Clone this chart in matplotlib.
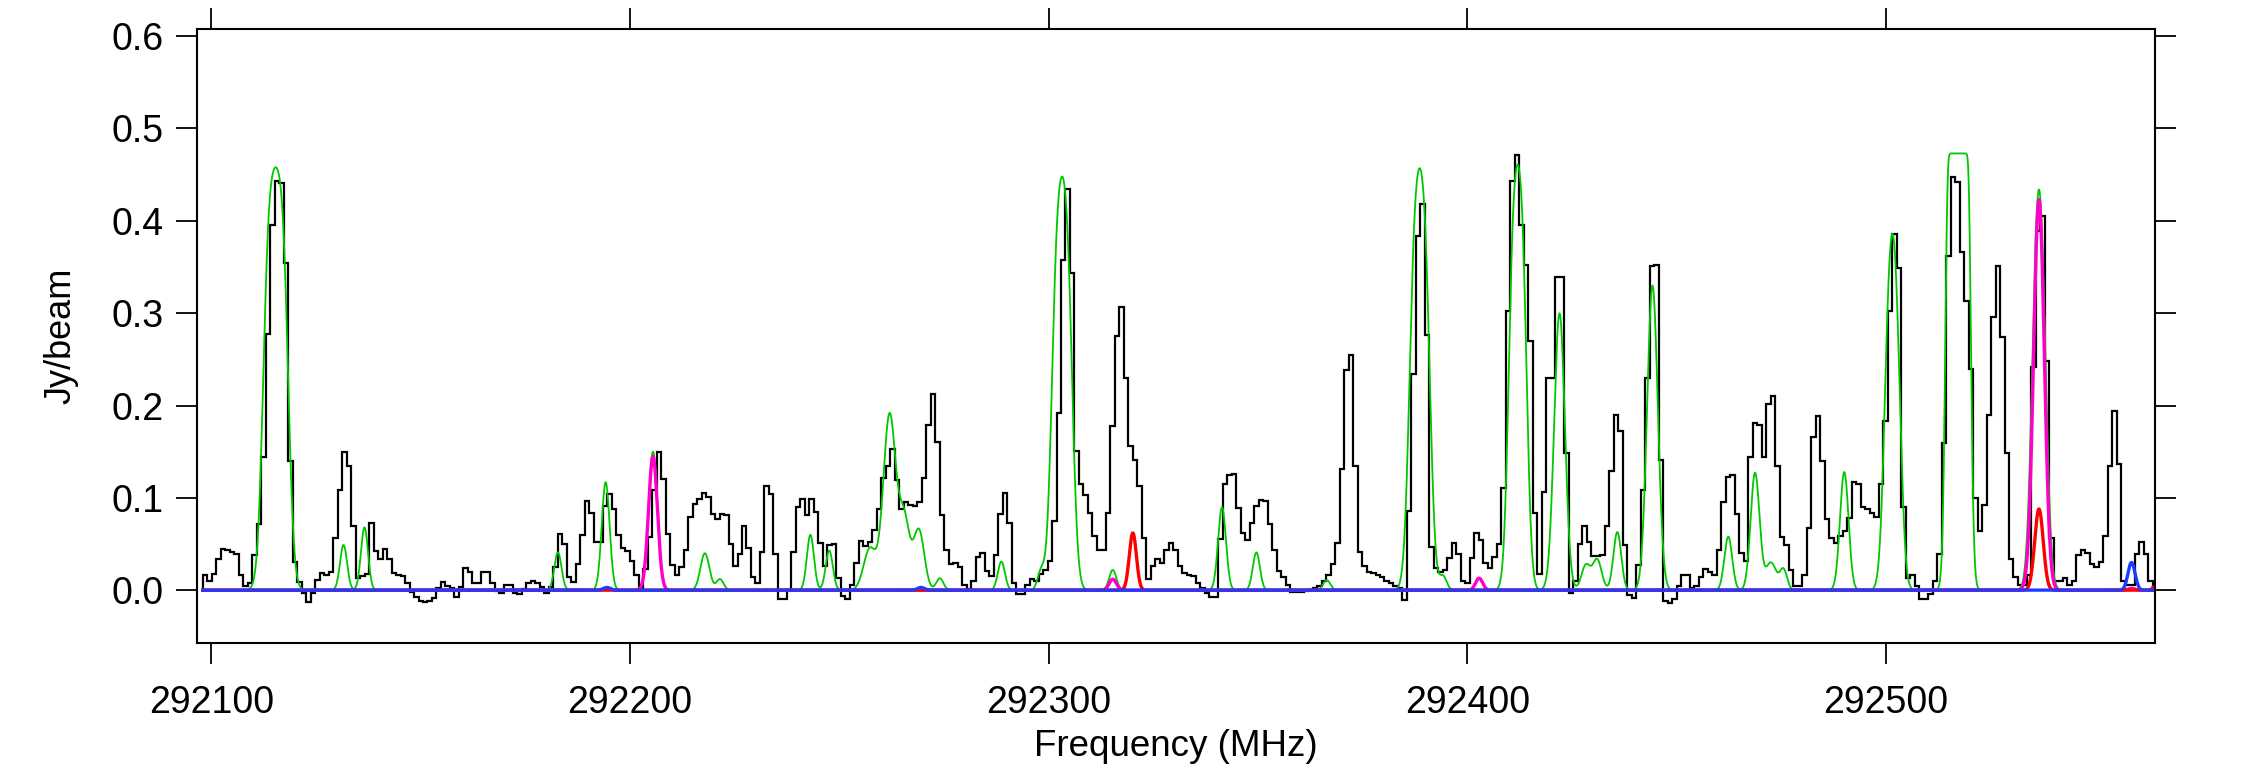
import numpy as np
import matplotlib
matplotlib.use("Agg")
import matplotlib.pyplot as plt

plt.rcParams['font.family'] = ['Liberation Sans', 'DejaVu Sans']

# observed spectrum: channel start, channel width (MHz), flux per channel (Jy/beam)
chan_start = 292098.0
chan_width = 1.073
flux = [
    0.017, 0.010, 0.018, 0.034, 0.045, 0.044, 0.041, 0.039, 0.016, 0.005,
    0.008, 0.038, 0.072, 0.144, 0.277, 0.395, 0.443, 0.441, 0.354, 0.140,
    0.031, 0.009, -0.003, -0.013, -0.003, 0.011, 0.019, 0.017, 0.020, 0.056,
    0.109, 0.150, 0.134, 0.069, 0.013, 0.015, 0.018, 0.073, 0.042, 0.034,
    0.045, 0.034, 0.019, 0.017, 0.015, 0.008, -0.002, -0.007, -0.012, -0.013,
    -0.012, -0.008, 0.002, 0.009, 0.005, 0.002, -0.007, 0.003, 0.024, 0.020,
    0.008, 0.008, 0.020, 0.020, 0.008, -0.001, -0.003, 0.006, 0.006, -0.003,
    -0.004, 0.001, 0.008, 0.010, 0.008, 0.003, -0.003, 0.003, 0.025, 0.061,
    0.050, 0.014, 0.009, 0.028, 0.060, 0.097, 0.084, 0.052, 0.052, 0.091,
    0.104, 0.088, 0.060, 0.046, 0.042, 0.032, 0.016, 0.001, 0.023, 0.058,
    0.108, 0.150, 0.120, 0.061, 0.027, 0.017, 0.025, 0.044, 0.079, 0.093,
    0.099, 0.105, 0.101, 0.082, 0.077, 0.083, 0.081, 0.050, 0.026, 0.039,
    0.069, 0.046, 0.014, 0.008, 0.041, 0.113, 0.104, 0.039, -0.010, -0.010,
    0.000, 0.041, 0.090, 0.099, 0.081, 0.099, 0.085, 0.051, 0.026, 0.049,
    0.050, 0.013, -0.006, -0.010, 0.006, 0.030, 0.053, 0.048, 0.052, 0.065,
    0.088, 0.121, 0.135, 0.153, 0.119, 0.088, 0.096, 0.092, 0.091, 0.095,
    0.122, 0.179, 0.212, 0.160, 0.081, 0.043, 0.028, 0.029, 0.025, 0.006,
    0.001, 0.010, 0.036, 0.040, 0.021, 0.015, 0.038, 0.082, 0.105, 0.073,
    0.008, -0.004, -0.004, 0.006, 0.012, 0.010, 0.018, 0.022, 0.032, 0.075,
    0.192, 0.358, 0.434, 0.344, 0.151, 0.115, 0.103, 0.084, 0.059, 0.044,
    0.044, 0.084, 0.178, 0.275, 0.307, 0.230, 0.156, 0.141, 0.113, 0.057,
    0.012, 0.026, 0.034, 0.030, 0.044, 0.051, 0.043, 0.026, 0.019, 0.017,
    0.015, 0.008, 0.002, -0.003, -0.007, -0.007, 0.055, 0.115, 0.125, 0.126,
    0.089, 0.062, 0.054, 0.073, 0.091, 0.098, 0.097, 0.072, 0.044, 0.021,
    0.014, 0.006, -0.002, -0.002, -0.002, -0.001, 0.000, 0.002, 0.005, 0.010,
    0.017, 0.028, 0.051, 0.131, 0.238, 0.255, 0.135, 0.041, 0.026, 0.020,
    0.019, 0.017, 0.014, 0.010, 0.008, 0.005, 0.002, -0.011, 0.086, 0.234,
    0.384, 0.418, 0.276, 0.047, 0.024, 0.020, 0.022, 0.035, 0.051, 0.039,
    0.010, 0.008, 0.035, 0.062, 0.054, 0.030, 0.024, 0.036, 0.050, 0.111,
    0.302, 0.443, 0.471, 0.395, 0.352, 0.270, 0.084, 0.018, 0.106, 0.230,
    0.230, 0.339, 0.339, 0.149, -0.003, 0.010, 0.050, 0.069, 0.052, 0.037,
    0.037, 0.038, 0.070, 0.129, 0.190, 0.172, 0.049, -0.005, -0.008, 0.027,
    0.108, 0.230, 0.351, 0.352, 0.141, -0.012, -0.014, -0.010, 0.005, 0.017,
    0.017, 0.002, 0.005, 0.014, 0.023, 0.020, 0.016, 0.043, 0.096, 0.123,
    0.125, 0.083, 0.040, 0.032, 0.144, 0.181, 0.179, 0.144, 0.202, 0.210,
    0.135, 0.058, 0.049, 0.022, 0.005, 0.005, 0.017, 0.067, 0.166, 0.189,
    0.140, 0.077, 0.057, 0.051, 0.059, 0.064, 0.078, 0.117, 0.115, 0.090,
    0.088, 0.084, 0.079, 0.115, 0.183, 0.302, 0.386, 0.349, 0.090, 0.013,
    0.017, 0.005, -0.009, -0.010, -0.004, 0.010, 0.039, 0.159, 0.362, 0.447,
    0.442, 0.366, 0.313, 0.240, 0.100, 0.064, 0.092, 0.190, 0.296, 0.351,
    0.274, 0.149, 0.034, 0.014, 0.006, 0.006, 0.016, 0.242, 0.389, 0.405,
    0.248, 0.056, 0.010, 0.010, 0.013, 0.006, 0.010, 0.038, 0.044, 0.040,
    0.028, 0.025, 0.031, 0.059, 0.135, 0.194, 0.137, 0.010, 0.006, 0.006,
    0.039, 0.052, 0.039, 0.010,
]

# model lines: centre (MHz), peak (Jy/beam), fwhm (MHz), opacity
green_center = [292115.4, 292131.6, 292136.6, 292182.8, 292194.2, 292205.5,
                292217.9, 292221.5, 292243.1, 292247.6, 292257.3, 292262.0,
                292265.5, 292269.0, 292274.0, 292288.7, 292298.2, 292303.2,
                292315.3, 292320.1, 292341.4, 292349.6, 292366.4, 292388.6,
                292394.2, 292402.8, 292412.0, 292422.0, 292428.3, 292431.0,
                292435.8, 292444.2, 292462.3, 292468.7, 292472.5, 292475.5,
                292490.0, 292501.5, 292517.2, 292536.5, 292558.6]
green_peak = [0.458, 0.049, 0.068, 0.041, 0.117, 0.150,
              0.040, 0.012, 0.060, 0.043, 0.045, 0.190,
              0.075, 0.065, 0.013, 0.031, 0.020, 0.448,
              0.022, 0.062, 0.090, 0.041, 0.011, 0.457,
              0.015, 0.013, 0.461, 0.300, 0.027, 0.033,
              0.063, 0.330, 0.058, 0.127, 0.030, 0.022,
              0.128, 0.386, 0.473, 0.434, 0.030]
green_fwhm = [4.0, 2.0, 2.0, 2.0, 2.2, 2.5,
              2.5, 2.0, 2.0, 2.0, 3.5, 3.5,
              3.0, 3.0, 2.0, 2.0, 2.0, 3.6,
              2.0, 2.0, 2.2, 2.0, 2.0, 3.6,
              2.0, 2.0, 3.2, 3.0, 2.5, 2.5,
              2.2, 3.0, 2.2, 2.5, 3.0, 2.0,
              2.4, 3.2, 2.7, 3.2, 2.0]
green_tau = [3.0, 0.01, 0.01, 0.01, 0.01, 0.01,
             0.01, 0.01, 0.01, 0.01, 0.01, 0.01,
             0.01, 0.01, 0.01, 0.01, 0.01, 2.0,
             0.01, 0.01, 0.01, 0.01, 0.01, 2.0,
             0.01, 0.01, 2.0, 0.01, 0.01, 0.01,
             0.01, 0.01, 0.01, 0.01, 0.01, 0.01,
             0.01, 1.0, 30.0, 0.5, 0.01]

magenta_center = [292194.5, 292205.5, 292315.3, 292402.8, 292536.5, 292558.6]
magenta_peak = [0.002, 0.145, 0.012, 0.013, 0.423, 0.002]
magenta_fwhm = [2.0, 2.5, 2.0, 2.0, 3.0, 2.0]

red_center = [292320.1, 292536.5, 292565.5]
red_peak = [0.062, 0.088, 0.030]
red_fwhm = [2.0, 2.4, 2.0]

blue_center = [292194.5, 292269.5, 292558.6]
blue_peak = [0.003, 0.003, 0.030]
blue_fwhm = [2.0, 2.0, 2.0]


def model(f, centers, peaks, fwhms, taus=None):
    out = np.zeros_like(f)
    for i, (c, p, w) in enumerate(zip(centers, peaks, fwhms)):
        g = np.exp(-4 * np.log(2) * (f - c) ** 2 / w ** 2)
        t = 0.01 if taus is None else taus[i]
        out += p * (1 - np.exp(-t * g)) / (1 - np.exp(-t))
    return out


def main():
    flux_arr = np.array(flux)
    edges = chan_start + chan_width * np.arange(len(flux_arr) + 1)
    f = np.linspace(edges[0], edges[-1], 6000)

    fig = plt.figure(figsize=(22.41, 7.70), dpi=100)
    ax = fig.add_axes([0.0879, 0.1649, 0.8737, 0.7974])

    ax.stairs(flux_arr, edges, color='black', linewidth=1.6)
    ax.plot(f, model(f, green_center, green_peak, green_fwhm, green_tau),
            color='#00c800', linewidth=1.3)
    ax.plot(f, model(f, magenta_center, magenta_peak, magenta_fwhm),
            color='#ff00cc', linewidth=2.4)
    ax.plot(f, model(f, red_center, red_peak, red_fwhm),
            color='#ff0000', linewidth=2.4)
    ax.plot(f, model(f, blue_center, blue_peak, blue_fwhm),
            color='#1e3cff', linewidth=2.4)

    ax.set_xlim(292096.6, 292564.2)
    ax.set_ylim(-0.0572, 0.6077)
    ax.set_xticks([292100, 292200, 292300, 292400, 292500])
    ax.set_xticklabels(['292100', '292200', '292300', '292400', '292500'])
    ax.set_yticks([0.0, 0.1, 0.2, 0.3, 0.4, 0.5, 0.6])
    ax.set_yticklabels(['0.0', '0.1', '0.2', '0.3', '0.4', '0.5', '0.6'])
    ax.tick_params(direction='out', length=15, width=1.3, labelsize=27,
                   top=True, right=True, pad=9)
    ax.tick_params(axis='x', pad=15)
    for s in ax.spines.values():
        s.set_linewidth(1.5)

    ax.set_xlabel('Frequency (MHz)', fontsize=26.5, labelpad=6)
    ax.set_ylabel('Jy/beam', fontsize=26, labelpad=24)

    fig.savefig('out.png', dpi=100)


if __name__ == "__main__":
    main()
